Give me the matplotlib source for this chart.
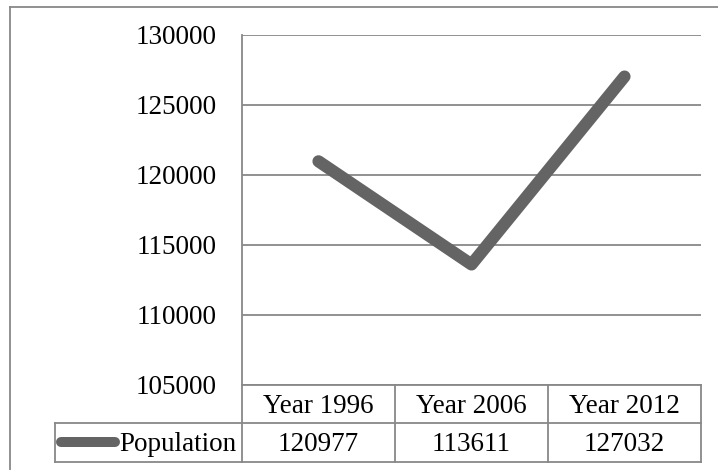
import matplotlib
matplotlib.use("Agg")
import matplotlib.pyplot as plt
from matplotlib.lines import Line2D
import matplotlib.transforms as mtransforms

categories = ["Year 1996", "Year 2006", "Year 2012"]
series_name = "Population"
population = [120977, 113611, 127032]
yticks = [105000, 110000, 115000, 120000, 125000, 130000]

W, H = 718, 470
DPI = 100
fig = plt.figure(figsize=(W / DPI, H / DPI), dpi=DPI)
plt.rcParams['font.family'] = ['Liberation Serif', 'DejaVu Serif']
FS = 19.5

def fx(px):
    return px / W

def fy(py):
    return 1 - py / H

L, R, T, B = 242, 701, 35, 385
ax = fig.add_axes([fx(L), fy(B), fx(R) - fx(L), fy(T) - fy(B)])

GRID = "#888888"
LINE = "#646464"

x = list(range(len(categories)))
ax.plot(x, population, color=LINE, lw=8.8, solid_capstyle='round',
        solid_joinstyle='round', zorder=3)
ax.set_xlim(-0.5, len(categories) - 0.5)
ax.set_ylim(yticks[0], yticks[-1])
ax.set_yticks(yticks)
ax.set_yticklabels([str(v) for v in yticks], fontsize=FS)
ax.tick_params(axis='y', length=0, pad=18.5)
ax.tick_params(axis='x', length=0, labelbottom=False)
ax.set_xticks([])
for s in ['top', 'right', 'bottom']:
    ax.spines[s].set_visible(False)
ax.spines['left'].set_color(GRID)
ax.spines['left'].set_linewidth(1.3)
ax.grid(axis='y', color=GRID, lw=1.3)
ax.set_axisbelow(True)

# data table below axes (x in data coords, y in axes coords)
trans = mtransforms.blended_transform_factory(ax.transData, ax.transAxes)
ah = B - T
r1 = -(422.5 - B) / ah
r2 = -(461.5 - B) / ah
unit = (R - L) / len(categories)
left_cell = -0.5 - (L - 55) / unit
tab_kw = dict(color=GRID, lw=1.3, transform=trans, clip_on=False)
xmin, xmax = -0.5, len(categories) - 0.5
ax.add_line(Line2D([xmin, xmax], [0, 0], **tab_kw))
ax.add_line(Line2D([left_cell, xmax], [r1, r1], **tab_kw))
ax.add_line(Line2D([left_cell, xmax], [r2, r2], **tab_kw))
for b in [xmin + i for i in range(len(categories) + 1)]:
    ax.add_line(Line2D([b, b], [0, r2], **tab_kw))
ax.add_line(Line2D([left_cell, left_cell], [r1, r2], **tab_kw))

dy = -2.5 / ah  # small downward nudge so digits sit centred in cells
for i, (c, v) in enumerate(zip(categories, population)):
    ax.text(i, r1 / 2 + dy, c, transform=trans, ha='center', va='center', fontsize=FS)
    ax.text(i, (r1 + r2) / 2 + dy, str(v), transform=trans, ha='center', va='center', fontsize=FS)

# legend key + series name
key_y = (r1 + r2) / 2
k0 = left_cell + (61 - 55) / unit
k1 = left_cell + (115 - 55) / unit
ax.add_line(Line2D([k0, k1], [key_y, key_y], color=LINE, lw=7.2,
                   solid_capstyle='round', transform=trans, clip_on=False))
ax.text(left_cell + (119 - 55) / unit, key_y + dy, series_name, transform=trans,
        ha='left', va='center', fontsize=FS)

# outer chart frame
fig.add_artist(Line2D([fx(9.5), 1.0], [fy(6.5), fy(6.5)], color=GRID, lw=1.3))
fig.add_artist(Line2D([fx(9.5), fx(9.5)], [0, fy(6.5)], color=GRID, lw=1.3))

fig.savefig("out.png", dpi=DPI)
